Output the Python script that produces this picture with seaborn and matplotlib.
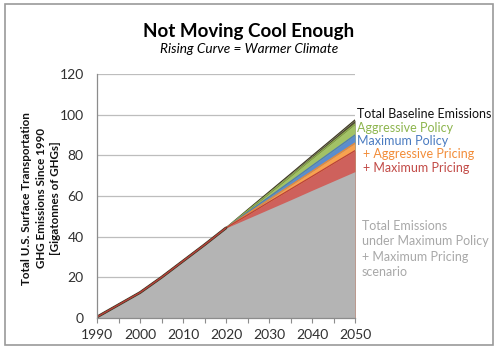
import matplotlib
matplotlib.use("Agg")
import matplotlib.pyplot as plt
from matplotlib.patches import Rectangle
from matplotlib.ticker import MultipleLocator
import seaborn as sns
import pandas as pd

years = [1990, 1995, 2000, 2005, 2010, 2015, 2020, 2025, 2030, 2035, 2040, 2045, 2050]
baseline = [0.5, 6.5, 12.5, 20.0, 28.0, 36.0, 44.3, 53.2, 62.0, 70.8, 79.7, 88.5, 97.4]
aggressive_policy = [0.5, 6.5, 12.5, 20.0, 28.0, 36.0, 44.3, 52.8, 61.3, 69.8, 78.4, 86.9, 95.4]
maximum_policy = [0.5, 6.5, 12.5, 20.0, 28.0, 36.0, 44.3, 51.9, 59.5, 67.1, 74.8, 82.4, 90.0]
plus_aggressive_pricing = [0.5, 6.5, 12.5, 20.0, 28.0, 36.0, 44.3, 51.3, 58.2, 65.2, 72.1, 79.1, 86.0]
plus_maximum_pricing = [0.5, 6.5, 12.5, 20.0, 28.0, 36.0, 44.3, 50.6, 57.0, 63.3, 69.6, 76.0, 82.3]
max_policy_max_pricing = [0.5, 6.5, 12.5, 20.0, 28.0, 36.0, 44.3, 48.9, 53.5, 58.1, 62.8, 67.4, 72.0]

series_names = ["Total Baseline Emissions", "Aggressive Policy", "Maximum Policy",
                "+ Aggressive Pricing", "+ Maximum Pricing", "Total Emissions"]
series_values = [baseline, aggressive_policy, maximum_policy,
                 plus_aggressive_pricing, plus_maximum_pricing, max_policy_max_pricing]
fill_colors = ["#4E4A30", "#A2C266", "#5B8DCF", "#F8A24F", "#CE615C", "#B4B4B4"]
edge_colors = ["#3E3A22", "#8FB050", "#4A7AB8", "#EE8A30", "#B8403C", "#B4B4B4"]
text_colors = ["#111111", "#8DB54E", "#4A7BC0", "#F28C38", "#C24A46", "#A8A8A8"]

sns.set_theme(style="white")
plt.rcParams['font.family'] = ['Lato', 'DejaVu Sans']

fig = plt.figure(figsize=(5.0, 3.54), dpi=100)
ax = fig.add_axes([0.194, 0.1017, 0.516, 0.6893])

df = pd.DataFrame({"year": years})
for name, vals, fc, ec in zip(series_names, series_values, fill_colors, edge_colors):
    df[name] = vals
    ax.fill_between(df["year"], 0, df[name], color=fc, linewidth=0, zorder=2)
    if name != "Total Emissions":
        sns.lineplot(data=df, x="year", y=name, ax=ax, color=ec, linewidth=0.9, zorder=3)

sns.lineplot(x=years[:7], y=baseline[:7], ax=ax, color="#3E3A22", linewidth=2.0, zorder=4)
sns.lineplot(x=years[:7], y=max_policy_max_pricing[:7], ax=ax, color="#B8403C", linewidth=1.0, zorder=4)

ax.set_xlim(1990, 2050)
ax.set_ylim(0, 120)
ax.yaxis.set_major_locator(MultipleLocator(20))
ax.xaxis.set_major_locator(MultipleLocator(10))
ax.xaxis.set_minor_locator(MultipleLocator(5))
ax.grid(axis="y", color="#BDBDBD", linewidth=0.9, zorder=1)
ax.set_axisbelow(True)
for s in ["top", "right"]:
    ax.spines[s].set_visible(False)
for s in ["left", "bottom"]:
    ax.spines[s].set_color("#8C8C8C")
    ax.spines[s].set_linewidth(0.9)
    ax.spines[s].set_zorder(5)
ax.tick_params(axis="both", which="both", direction="out", length=3.6, width=0.8,
               color="#8C8C8C", labelsize=10, labelcolor="#303030")
ax.tick_params(axis="y", pad=6)
ax.tick_params(axis="x", which="both", pad=4, bottom=True)
ax.set_xlabel("")
ax.set_ylabel("Total U.S. Surface Transportation\nGHG Emissions Since 1990\n[Gigatonnes of GHGs]",
              fontsize=8.4, fontweight="bold", color="#111111", linespacing=1.42)
ax.yaxis.set_label_coords(-0.138, 0.49)

# right side labels
label_pos = [(357, 114), (357, 128), (357, 141), (363, 154), (363, 168)]
for (px, py), name, col in zip(label_pos, series_names[:5], text_colors[:5]):
    fig.text(px / 500, 1 - py / 354, name, fontsize=9, color=col, va="center", ha="left")
fig.text(362 / 500, 1 - 220 / 354,
         "Total Emissions\nunder Maximum Policy\n+ Maximum Pricing\nscenario",
         fontsize=9, color=text_colors[5], va="top", ha="left", linespacing=1.33)

fig.text(0.498, 1 - 31 / 354, "Not Moving Cool Enough", fontsize=13.5, fontweight="bold",
         ha="center", va="center", color="#000000")
fig.text(0.498, 1 - 49 / 354, "Rising Curve = Warmer Climate", fontsize=9.8, style="italic",
         ha="center", va="center", color="#000000")

fig.patches.append(Rectangle((5 / 500, 1 - 345 / 354), 488 / 500, 341 / 354,
                             transform=fig.transFigure, fill=False,
                             edgecolor="#9A9A9A", linewidth=1.2))

fig.savefig("out.png", dpi=100)
